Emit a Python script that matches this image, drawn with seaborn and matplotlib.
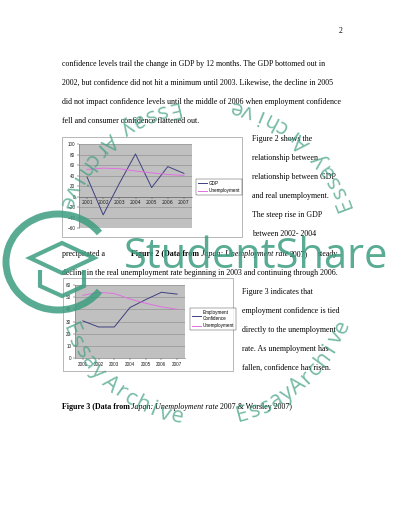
import numpy as np
import pandas as pd
import matplotlib
matplotlib.use("Agg")
import matplotlib.pyplot as plt
from matplotlib.patches import Rectangle, Arc, Polygon
import seaborn as sns

# ==========================================
# DATA
# ==========================================
years = ["2001", "2002", "2003", "2004", "2005", "2006", "2007"]
gdp = [37, -35, 25, 81, 17, 57, 44]
unemployment = [51.5, 54, 53, 48.5, 45, 42, 40]
emp_confidence = [30.5, 25.5, 25.5, 41.5, 48, 54, 52.5]
fig2_yticks = list(range(-60, 101, 20))
fig3_yticks = list(range(0, 61, 10))

paragraph = [
    "confidence levels trail the change in GDP by 12 months. The GDP bottomed out in",
    "2002, but confidence did not hit a minimum until 2003. Likewise, the decline in 2005",
    "did not impact confidence levels until the middle of 2006 when employment confidence",
    "fell and consumer confidence flattened out.",
]
side_text_2 = [
    "Figure 2 shows the",
    "relationship between",
    "relationship between GDP",
    "and real unemployment.",
    "The steep rise in GDP",
    "between 2002- 2004",
]
side_text_3 = [
    "Figure 3 indicates that",
    "employment confidence is tied",
    "directly to the unemployment",
    "rate. As unemployment has",
    "fallen, confidence has risen.",
]

df2 = pd.DataFrame({"year": years, "GDP": gdp, "Unemployment": unemployment})
df3 = pd.DataFrame({"year": years, "Employment\nConfidence": emp_confidence,
                    "Unemployment": unemployment})

# ==========================================
# PAGE SETUP
# ==========================================
W, H = 400, 517
SERIF = ["Liberation Serif", "DejaVu Serif"]
SANS = ["Liberation Sans", "DejaVu Sans"]
BODY = 5.7
CHART_FS = 3.3
GRAY = "#c0c0c0"
GRID = "#8a8a8a"
NAVY = "#404080"
PINK = "#e070e0"
TEAL = "#3c9e80"

fig = plt.figure(figsize=(4, 5.17), dpi=100)
fig.patch.set_facecolor("white")


def rect(x0, y0, x1, y1):
    return [x0 / W, 1 - y1 / H, (x1 - x0) / W, (y1 - y0) / H]


page = fig.add_axes([0, 0, 1, 1], zorder=0)
page.set_xlim(0, W)
page.set_ylim(H, 0)
page.axis("off")

page.text(339, 31, "2", fontsize=BODY, family=SERIF, ha="left", va="center")
for i, line in enumerate(paragraph):
    page.text(62, 64 + i * 19, line, fontsize=BODY, family=SERIF, va="center")
for i, line in enumerate(side_text_2):
    page.text(252, 139 + i * 19, line, fontsize=BODY, family=SERIF, va="center")
for i, line in enumerate(side_text_3):
    page.text(242, 292 + i * 19, line, fontsize=BODY, family=SERIF, va="center")

page.text(62, 254, "precipitated a", fontsize=BODY, family=SERIF, va="center")
page.text(338, 254, "steady", fontsize=BODY, family=SERIF, va="center", ha="right")
page.text(62, 273, "decline in the real unemployment rate beginning in 2003 and continuing through 2006.",
          fontsize=BODY, family=SERIF, va="center")

renderer = fig.canvas.get_renderer()
SPACE = 1.6  # gap between style runs, px


def runs(x, y, parts):
    for txt, kw in parts:
        t = page.text(x, y, txt, fontsize=BODY, family=SERIF, va="center", **kw)
        x += t.get_window_extent(renderer=renderer).width + SPACE


runs(131, 254, [("Figure 2 (Data from", {"fontweight": "bold"}),
                ("Japan: Unemployment rate", {"fontstyle": "italic"}),
                ("2007)", {})])
runs(62, 407, [("Figure 3 (Data from", {"fontweight": "bold"}),
               ("Japan: Unemployment rate", {"fontstyle": "italic"}),
               ("2007 & Worsley 2007)", {})])

# chart frames
page.add_patch(Rectangle((62, 137), 180, 100, facecolor="white", edgecolor="#9a9a9a", lw=0.5))
page.add_patch(Rectangle((63, 278), 170, 93, facecolor="white", edgecolor="#9a9a9a", lw=0.5))


def style_chart(ax, yticks):
    ax.set_facecolor(GRAY)
    ax.set_xlim(-0.5, 6.5)
    ax.set_ylim(yticks[0], yticks[-1])
    ax.set_yticks(yticks)
    ax.grid(axis="y", color=GRID, lw=0.4)
    ax.grid(axis="x", visible=False)
    ax.set_axisbelow(True)
    ax.set_xlabel("")
    ax.set_ylabel("")
    for s in ["top", "right"]:
        ax.spines[s].set_visible(False)
    ax.spines["left"].set_color("#707070")
    ax.spines["left"].set_linewidth(0.4)
    ax.spines["bottom"].set_color("#606060")
    ax.spines["bottom"].set_linewidth(0.4)
    ax.tick_params(labelsize=CHART_FS, length=1.2, width=0.3, pad=1.5, colors="#222222")
    for lab in ax.get_xticklabels() + ax.get_yticklabels():
        lab.set_family(SANS)


def add_legend(ax, x, y):
    h, l = ax.get_legend_handles_labels()
    ax.get_legend().remove()
    leg = fig.legend(h, l, loc="center left", bbox_to_anchor=(x / W, 1 - y / H),
                     frameon=True, fancybox=False, edgecolor="black",
                     handlelength=1.9, borderpad=0.45, labelspacing=0.6, handletextpad=0.4,
                     prop={"family": SANS, "size": CHART_FS})
    leg.get_frame().set_linewidth(0.3)


# ==========================================
# FIGURE 2 CHART
# ==========================================
ax1 = fig.add_axes(rect(79, 144, 192, 228), zorder=1)
sns.lineplot(data=df2, x="year", y="GDP", ax=ax1, color=NAVY, lw=0.7, label="GDP", sort=False)
sns.lineplot(data=df2, x="year", y="Unemployment", ax=ax1, color=PINK, lw=0.7,
             label="Unemployment", sort=False)
style_chart(ax1, fig2_yticks)
ax1.spines["bottom"].set_position(("data", 0))
add_legend(ax1, 194, 187)

# ==========================================
# FIGURE 3 CHART
# ==========================================
ax2 = fig.add_axes(rect(75, 285, 185, 358), zorder=1)
sns.lineplot(data=df3, x="year", y="Employment\nConfidence", ax=ax2, color=NAVY, lw=0.7,
             label="Employment\nConfidence", sort=False)
sns.lineplot(data=df3, x="year", y="Unemployment", ax=ax2, color=PINK, lw=0.7,
             label="Unemployment", sort=False)
style_chart(ax2, fig3_yticks)
add_legend(ax2, 188, 319)

# ==========================================
# WATERMARK
# ==========================================
wm = fig.add_axes([0, 0, 1, 1], zorder=10)
wm.set_xlim(0, W)
wm.set_ylim(H, 0)
wm.axis("off")
wm.patch.set_alpha(0)

wm.text(124, 268, "StudentShare", fontsize=30, family=["Open Sans", "DejaVu Sans"],
        color=TEAL, alpha=0.85, ha="left", va="baseline")
wm.add_patch(Arc((58, 262), 104, 96, theta1=35, theta2=325, color=TEAL, lw=5, alpha=0.85))
wm.add_patch(Polygon([(30, 258), (62, 243), (94, 258), (62, 273)], closed=True,
                     facecolor="none", edgecolor=TEAL, lw=3, alpha=0.85))
wm.add_patch(Polygon([(40, 270), (40, 286), (62, 296), (84, 286), (84, 270)], closed=False,
                     facecolor="none", edgecolor=TEAL, lw=3, alpha=0.85))

# ring of "Essay Archive" words around an ellipse
cx, cy, rx, ry = 205, 262, 150, 158
ring_words = ["Essay", "Archive"] * 4
ring_angles = [215, 245, 294, 322, 391, 424, 472, 504]
char_gap = 12.5
for word, ang in zip(ring_words, ring_angles):
    th0 = np.deg2rad(ang)
    speed = np.hypot(rx * np.sin(th0), ry * np.cos(th0))
    n = len(word)
    for k, ch in enumerate(word):
        th = th0 + (k - (n - 1) / 2) * char_gap / speed
        rot = np.degrees(np.arctan2(ry * np.cos(th), -rx * np.sin(th)))
        wm.text(cx + rx * np.cos(th), cy - ry * np.sin(th), ch, rotation=rot,
                rotation_mode="anchor", ha="center", va="center", fontsize=16,
                family=["Open Sans", "DejaVu Sans"], color=TEAL, alpha=0.7)

fig.savefig("out.png", dpi=100)
